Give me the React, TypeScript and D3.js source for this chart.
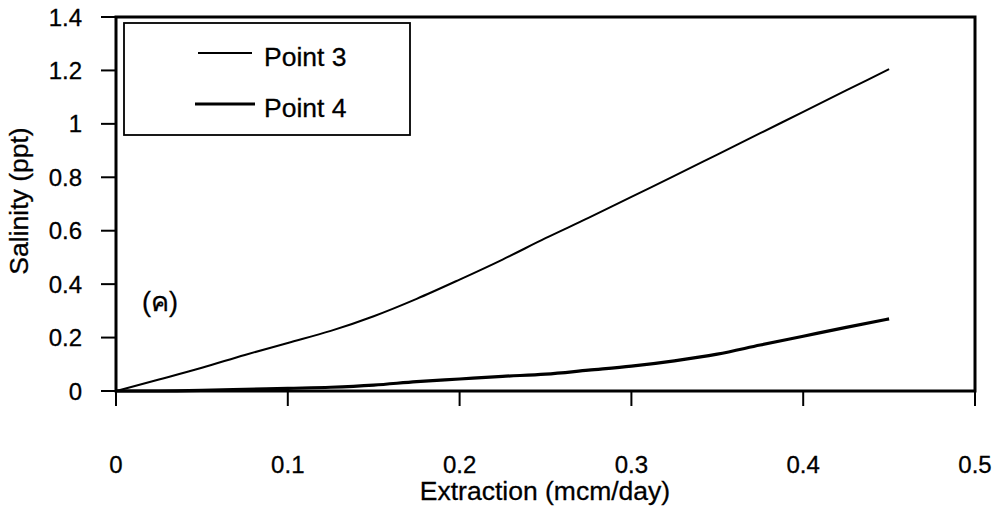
import React from "react";
import * as d3 from "d3";

const xTicks = [0, 0.1, 0.2, 0.3, 0.4, 0.5];
const yTicks = [0, 0.2, 0.4, 0.6, 0.8, 1, 1.2, 1.4];

const extraction = [0, 0.025, 0.05, 0.075, 0.1, 0.125, 0.15, 0.175, 0.2, 0.225, 0.25, 0.275, 0.3, 0.325, 0.35, 0.375, 0.4, 0.425, 0.45];
const point3 = [0, 0.043, 0.087, 0.135, 0.18, 0.225, 0.28, 0.345, 0.417, 0.492, 0.572, 0.648, 0.727, 0.805, 0.885, 0.965, 1.045, 1.125, 1.205];
const point4 = [0, 0.0, 0.002, 0.006, 0.01, 0.014, 0.022, 0.035, 0.045, 0.055, 0.063, 0.078, 0.093, 0.113, 0.138, 0.172, 0.205, 0.238, 0.27];

const seriesNames = ["Point 3", "Point 4"];
const panelLabel = "(ค)";
const xTitle = "Extraction (mcm/day)";
const yTitle = "Salinity (ppt)";

const FONT = "'Liberation Sans', Arial, Helvetica, sans-serif";

export default function App() {
  const left = 116, right = 975, top = 17, bottom = 391;
  const x = d3.scaleLinear().domain([0, 0.5]).range([left, right]);
  const y = d3.scaleLinear().domain([0, 1.4]).range([bottom, top]);
  const line = d3
    .line<[number, number]>()
    .x((d) => x(d[0]))
    .y((d) => y(d[1]))
    .curve(d3.curveMonotoneX);
  const d3path = line(extraction.map((v, i) => [v, point3[i]] as [number, number])) || "";
  const d4path = line(extraction.map((v, i) => [v, point4[i]] as [number, number])) || "";

  return (
    <svg
      width={1001}
      height={509}
      style={{ position: "absolute", left: 0, top: 0, background: "#fff" }}
      fontFamily={FONT}
    >
      <rect x={0} y={0} width={1001} height={509} fill="#fff" />
      {/* frame */}
      <rect x={left} y={top} width={right - left} height={bottom - top} fill="none" stroke="#000" strokeWidth={3} />
      {/* y ticks */}
      {yTicks.map((t) => (
        <g key={"y" + t}>
          <line x1={101} x2={left} y1={y(t)} y2={y(t)} stroke="#000" strokeWidth={2} />
          <text x={82} y={y(t) + 8.5} textAnchor="end" fontSize={24} fill="#000" stroke="#000" strokeWidth={0.3}>
            {String(t)}
          </text>
        </g>
      ))}
      {/* x ticks */}
      {xTicks.map((t) => (
        <g key={"x" + t}>
          <line x1={x(t)} x2={x(t)} y1={bottom} y2={bottom + 15} stroke="#000" strokeWidth={2} />
          <text x={x(t)} y={473} textAnchor="middle" fontSize={24} fill="#000" stroke="#000" strokeWidth={0.3}>
            {String(t)}
          </text>
        </g>
      ))}
      {/* series */}
      <path d={d3path} fill="none" stroke="#000" strokeWidth={2} />
      <path d={d4path} fill="none" stroke="#000" strokeWidth={3.2} />
      {/* legend */}
      <rect x={124} y={23} width={286} height={112} fill="#fff" stroke="#000" strokeWidth={1.8} />
      <line x1={198} x2={252} y1={53} y2={53} stroke="#000" strokeWidth={2} />
      <line x1={195} x2={255} y1={104} y2={104} stroke="#000" strokeWidth={3.2} />
      <text x={264} y={66} fontSize={26.5} fill="#000" stroke="#000" strokeWidth={0.3}>{seriesNames[0]}</text>
      <text x={264} y={117} fontSize={26.5} fill="#000" stroke="#000" strokeWidth={0.3}>{seriesNames[1]}</text>
      {/* panel label */}
      <text x={142} y={311} fontSize={27} fill="#000" stroke="#000" strokeWidth={0.3}>{panelLabel}</text>
      {/* axis titles */}
      <text x={545} y={500} textAnchor="middle" fontSize={26.5} fill="#000" stroke="#000" strokeWidth={0.3}>{xTitle}</text>
      <text
        transform={`translate(28, 201) rotate(-90)`}
        textAnchor="middle"
        fontSize={26.5}
        fill="#000"
        stroke="#000"
        strokeWidth={0.3}
      >
        {yTitle}
      </text>
    </svg>
  );
}
